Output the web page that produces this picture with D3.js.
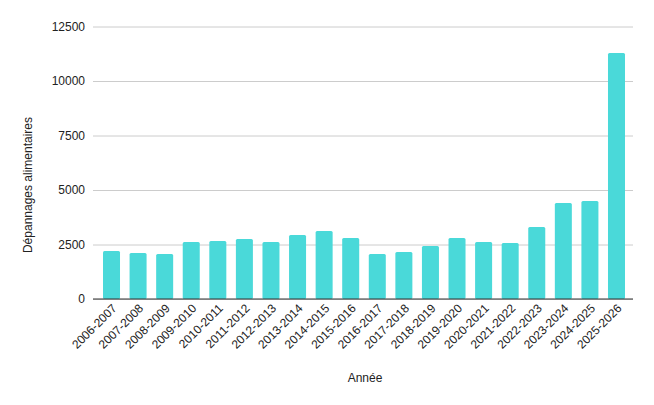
<!DOCTYPE html>
<html>
<head>
<meta charset="utf-8">
<script src="https://cdn.jsdelivr.net/npm/d3@7"></script>
<style>
  body { margin: 0; background: #fff; }
  text { font-family: "Liberation Sans", Arial, sans-serif; }
</style>
</head>
<body>
<div id="chart"></div>
<script>
const years = ['2006-2007','2007-2008','2008-2009','2009-2010','2010-2011','2011-2012','2012-2013',
  '2013-2014','2014-2015','2015-2016','2016-2017','2017-2018','2018-2019','2019-2020','2020-2021',
  '2021-2022','2022-2023','2023-2024','2024-2025','2025-2026'];
const depannages = [2200, 2110, 2065, 2615, 2660, 2750, 2615, 2935, 3120, 2800, 2065, 2155, 2430,
  2800, 2615, 2570, 3300, 4405, 4495, 11285];
const yTicks = [0, 2500, 5000, 7500, 10000, 12500];

var margin = { top: 26.5, right: 21, bottom: 106, left: 93 },
    width = 654 - margin.left - margin.right,
    height = 405 - margin.top - margin.bottom;

var svg = d3.select('#chart').append('svg')
    .attr('width', 654)
    .attr('height', 405)
  .append('g')
    .attr('transform', `translate(${margin.left},${margin.top})`);

var x = d3.scaleBand()
    .domain(years)
    .range([10, 532])
    .paddingInner(0.36)
    .paddingOuter(0);
var y = d3.scaleLinear()
    .domain([0, 12500])
    .range([height, 0]);

// gridlines + y labels
svg.append('g')
    .call(d3.axisLeft(y).tickValues(yTicks).tickFormat(d3.format('d')).tickSize(-width).tickPadding(8))
    .call(g => g.select('.domain').remove())
    .call(g => g.selectAll('line').attr('stroke', '#cccccc'))
    .call(g => g.selectAll('text').attr('font-size', 12).attr('fill', '#222'));

svg.selectAll('.bar')
    .data(depannages)
    .enter().append('rect')
    .attr('class', 'bar')
    .attr('x', (d, i) => x(years[i]))
    .attr('y', d => y(d))
    .attr('width', x.bandwidth())
    .attr('height', d => height - y(d))
    .attr('rx', 1.5)
    .attr('fill', '#4ad9d9');

// baseline
svg.append('line')
    .attr('x1', 0).attr('x2', width)
    .attr('y1', y(0)).attr('y2', y(0))
    .attr('stroke', '#333').attr('stroke-width', 1.2);

// x labels
svg.append('g')
    .selectAll('text')
    .data(years)
    .enter().append('text')
    .attr('transform', d => `translate(${x(d) + x.bandwidth() / 2 + 6},${height + 10}) rotate(-45)`)
    .attr('text-anchor', 'end')
    .attr('font-size', 12)
    .attr('fill', '#222')
    .text(d => d);

svg.append('text')
    .attr('x', width / 2 + 2)
    .attr('y', height + 82.5)
    .attr('text-anchor', 'middle')
    .attr('font-size', 12)
    .attr('fill', '#222')
    .text('Année');

svg.append('text')
    .attr('transform', `translate(${-61},${158.5}) rotate(-90)`)
    .attr('text-anchor', 'middle')
    .attr('font-size', 12)
    .attr('fill', '#222')
    .text('Dépannages alimentaires');
</script>
</body>
</html>
